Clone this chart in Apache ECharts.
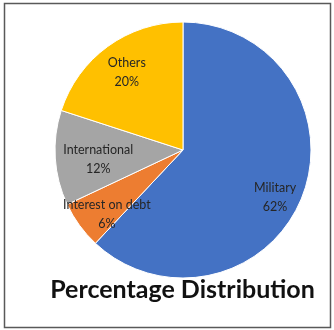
<!DOCTYPE html>
<html><head><meta charset="utf-8">
<script src="https://cdn.jsdelivr.net/npm/echarts@6/dist/echarts.min.js"></script>
<style>html,body{margin:0;padding:0;background:#fff}#c{width:334px;height:330px}</style>
</head><body><div id="c"></div>
<script>
const categories = ['Military', 'Interest on debt', 'International', 'Others'];
const values = [62, 6, 12, 20];
const colors = ['#4472C4', '#ED7D31', '#A5A5A5', '#FFC000'];
const titleText = 'Percentage Distribution';

// label nudges (style only), mimicking Excel's best-fit label placement
const labelNudge = {
  'Military': [0, 11],
  'Interest on debt': [4, 6],
  'International': [14, 3],
  'Others': [2, 3]
};

const data = categories.map((n, i) => ({ name: n, value: values[i], itemStyle: { color: colors[i] } }));
const chart = echarts.init(document.getElementById('c'));
chart.setOption({
  animation: false,
  graphic: [
    { type: 'rect', shape: { x: 4.5, y: 3.5, width: 326, height: 324 }, style: { fill: 'none', stroke: '#595959', lineWidth: 1.5 }, silent: true },
    { type: 'text', x: 182.5, y: 290, silent: true,
      style: { text: titleText, textAlign: 'center', textVerticalAlign: 'middle', fontFamily: 'Lato', fontWeight: 'bold', fontSize: 25, fill: '#111' } }
  ],
  series: [
    { type: 'pie', center: [183, 150], radius: [0, 128], startAngle: 90, clockwise: true,
      label: { show: false }, labelLine: { show: false },
      itemStyle: { borderColor: '#fff', borderWidth: 1 }, data: data },
    { type: 'pie', center: [183, 150], radius: [64, 128], startAngle: 90, clockwise: true, silent: true,
      itemStyle: { color: 'rgba(0,0,0,0)', borderWidth: 0 },
      label: { show: true, position: 'inside', formatter: '{b}\n{c}%', fontFamily: 'Lato', fontSize: 12.5, color: '#262626', lineHeight: 19 },
      labelLine: { show: false },
      data: categories.map((n, i) => ({ name: n, value: values[i], label: { offset: labelNudge[n] } })) }
  ]
});
</script></body></html>
